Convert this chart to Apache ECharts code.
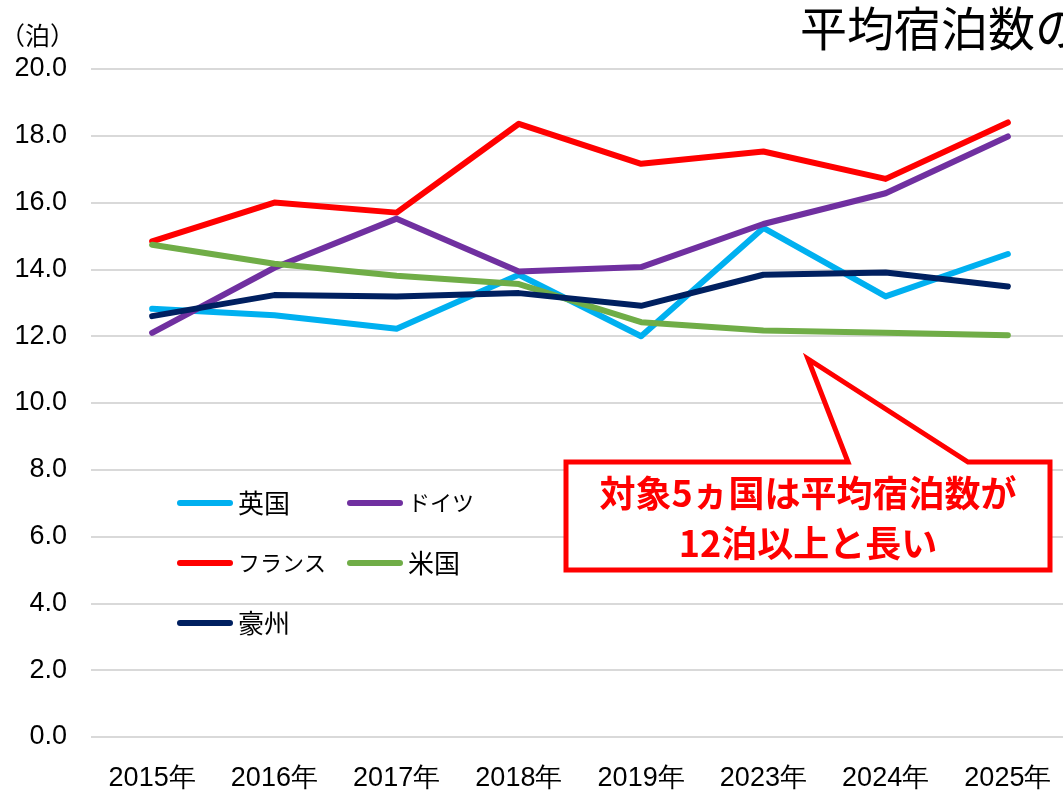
<!DOCTYPE html>
<html>
<head>
<meta charset="utf-8">
<script src="https://cdn.jsdelivr.net/npm/echarts@6/dist/echarts.min.js"></script>
<style>
  html, body { margin: 0; padding: 0; background: #fff; overflow: hidden; }
  /* slightly wider than the window: the plot area runs past the right edge, as in the original */
  #chart { width: 1069px; height: 792px; }
</style>
</head>
<body>
<div id="chart"></div>
<script>
// 年次
const years = ['2015年', '2016年', '2017年', '2018年', '2019年', '2023年', '2024年', '2025年'];

// 平均宿泊数（泊）
const uk = [12.82, 12.63, 12.22, 13.84, 12.0, 15.24, 13.19, 14.46];
const germany = [12.1, 14.05, 15.52, 13.94, 14.07, 15.36, 16.28, 17.98];
const france = [14.84, 16.0, 15.7, 18.36, 17.16, 17.53, 16.71, 18.4];
const usa = [14.74, 14.17, 13.81, 13.56, 12.42, 12.17, 12.1, 12.03];
const australia = [12.6, 13.23, 13.19, 13.29, 12.91, 13.84, 13.91, 13.49];

const names = ['英国', 'ドイツ', 'フランス', '米国', '豪州'];
const colors = ['#00B0F0', '#7030A0', '#FF0000', '#70AD47', '#002060'];
const values = [uk, germany, france, usa, australia];

const jp = '"Noto Sans CJK JP", sans-serif';
const latin = '"Liberation Sans", Arial, sans-serif';

// legend positions (hand placed like the original)
const legendPos = [
    { left: 177, top: 488, size: 26 },
    { left: 347, top: 488, size: 22 },
    { left: 177, top: 548, size: 22 },
    { left: 347, top: 548, size: 26 },
    { left: 177, top: 608, size: 26 }
];

const pill = 'path://M3,0 L53,0 A3,3 0 0 1 53,6 L3,6 A3,3 0 0 1 3,0 Z';

let chart = echarts.init(document.getElementById('chart'));

let option = {
    animation: false,
    color: colors,
    title: {
        text: '平均宿泊数の',
        left: 800,
        top: 5,
        padding: 0,
        textStyle: {
            fontFamily: jp,
            fontSize: 47,
            fontWeight: 'normal',
            color: '#000'
        }
    },
    legend: names.map((n, i) => ({
        data: [n],
        left: legendPos[i].left,
        top: legendPos[i].top,
        padding: 0,
        icon: pill,
        itemWidth: 56,
        itemHeight: 6,
        textStyle: { fontFamily: jp, fontSize: legendPos[i].size, color: '#000', lineHeight: 30 }
    })),
    grid: {
        left: 91,
        top: 69,
        right: 0,
        bottom: 53
    },
    xAxis: {
        type: 'category',
        data: years,
        boundaryGap: true,
        axisLine: { show: false },
        axisTick: { show: false },
        axisLabel: {
            margin: 28,
            fontFamily: latin,
            fontSize: 27,
            color: '#000'
        }
    },
    yAxis: {
        type: 'value',
        min: 0,
        max: 20,
        interval: 2,
        axisLine: { show: false },
        axisTick: { show: false },
        axisLabel: {
            margin: 24,
            fontFamily: latin,
            fontSize: 27,
            color: '#000',
            formatter: v => v.toFixed(1)
        },
        splitLine: { lineStyle: { color: '#D9D9D9', width: 2 } }
    },
    series: names.map((n, i) => ({
        name: n,
        type: 'line',
        data: values[i],
        showSymbol: false,
        symbol: 'none',
        lineStyle: { width: 6, color: colors[i], cap: 'round', join: 'round' },
        itemStyle: { color: colors[i] }
    })),
    graphic: [
        {
            type: 'text',
            left: 0,
            top: 23,
            style: {
                text: '（泊）',
                font: '25px ' + jp,
                fill: '#000'
            }
        },
        {
            type: 'polygon',
            z: 100,
            shape: {
                points: [[566, 462], [848, 462], [808, 359], [968, 462], [1050, 462], [1050, 570], [566, 570]]
            },
            style: { fill: '#fff', stroke: '#FF0000', lineWidth: 5, lineJoin: 'miter' }
        },
        {
            type: 'text',
            z: 101,
            x: 808,
            y: 493,
            style: {
                text: '対象5ヵ国は平均宿泊数が',
                font: 'bold 36px ' + jp,
                fill: '#FF0000',
                align: 'center',
                verticalAlign: 'middle',
                textAlign: 'center',
                textVerticalAlign: 'middle'
            }
        },
        {
            type: 'text',
            z: 101,
            x: 808,
            y: 543,
            style: {
                text: '12泊以上と長い',
                font: 'bold 36px ' + jp,
                fill: '#FF0000',
                align: 'center',
                verticalAlign: 'middle',
                textAlign: 'center',
                textVerticalAlign: 'middle'
            }
        }
    ]
};

chart.setOption(option);
</script>
</body>
</html>
